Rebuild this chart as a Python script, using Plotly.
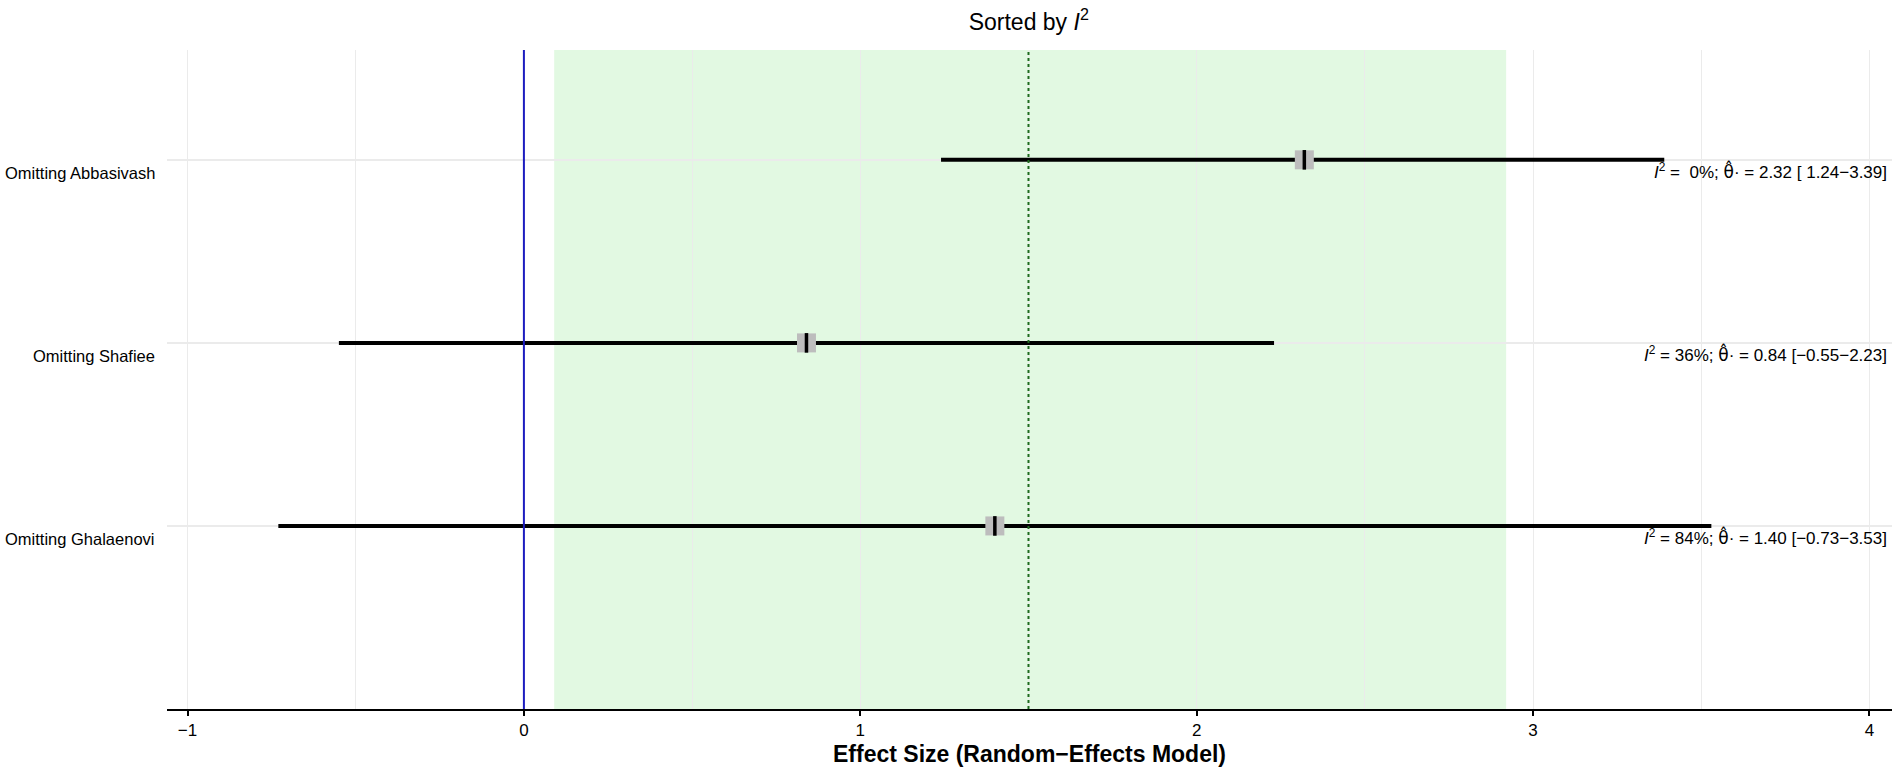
import plotly.graph_objects as go

# leave-one-out results, sorted by I^2
studies = ["Omitting Abbasivash", "Omitting Shafiee", "Omitting Ghalaenovi"]
estimates = [2.32, 0.84, 1.40]
lower = [1.24, -0.55, -0.73]
upper = [3.39, 2.23, 3.53]
i2 = [0, 36, 84]
rows = [3, 2, 1]

# pooled random-effects estimate and CI
pooled = 1.50
pooled_lo = 0.09
pooled_hi = 2.92

FONT = "Liberation Sans, Arial, sans-serif"
grid = "#ebebeb"

fig = go.Figure()

# CI lines
for y, lo, hi in zip(rows, lower, upper):
    fig.add_trace(go.Scatter(
        x=[lo, hi], y=[y, y], mode="lines",
        line=dict(color="black", width=4),
        hoverinfo="skip", showlegend=False
    ))

# grey boxes
fig.add_trace(go.Scatter(
    x=estimates, y=rows, mode="markers",
    marker=dict(symbol="square", size=19, color="#bdbdbd"),
    showlegend=False
))
# black tick in the box
fig.add_trace(go.Scatter(
    x=estimates, y=rows, mode="markers",
    marker=dict(symbol="line-ns", size=14, line=dict(color="black", width=3.5)),
    showlegend=False, hoverinfo="skip"
))

# pooled CI band, null line, pooled estimate
fig.add_shape(type="rect", xref="x", yref="paper", x0=pooled_lo, x1=pooled_hi, y0=0, y1=1,
              fillcolor="#e2f9e2", line_width=0, layer="below")
fig.add_shape(type="line", xref="x", yref="paper", x0=0, x1=0, y0=0, y1=1,
              line=dict(color="#1c1cbf", width=2))
fig.add_shape(type="line", xref="x", yref="paper", x0=pooled, x1=pooled, y0=0, y1=1,
              line=dict(color="#1e6b1e", width=2, dash="dot"))

theta = '<span style="font-family:DejaVu Sans">\u03b8\u0302</span>'

# labels
for y, s, e, lo, hi, h in zip(rows, studies, estimates, lower, upper, i2):
    fig.add_annotation(x=-0.006, xref="paper", y=y, yref="y", text=s, showarrow=False,
                       xanchor="right", yanchor="middle", yshift=-13,
                       font=dict(size=16.5, color="black", family=FONT))
    lo_txt = f"{lo:.2f}".replace("-", "\u2212") if lo < 0 else f" {lo:.2f}"
    txt = (f"<i>I</i><sup>2</sup> = {h:2d}%; {theta}\u00b7 = {e:.2f} "
           f"[{lo_txt}\u2212{hi:.2f}]")
    fig.add_annotation(x=0.998, xref="paper", y=y, yref="y", text=txt, showarrow=False,
                       xanchor="right", yanchor="middle", yshift=-11,
                       font=dict(size=17, color="black", family=FONT))

fig.update_layout(
    width=1896, height=767,
    margin=dict(l=167, r=4, t=50, b=54),
    plot_bgcolor="white", paper_bgcolor="white",
    font=dict(family=FONT, color="black"),
    title=dict(text="Sorted by <i>I</i><sup>2</sup>", x=0.5426, xanchor="center",
               y=0.972, yanchor="middle", font=dict(size=23, color="black")),
    showlegend=False,
)
fig.update_xaxes(
    range=[-1.061, 4.067], dtick=1, tick0=0,
    showgrid=True, gridcolor=grid, gridwidth=1,
    minor=dict(dtick=0.5, tick0=0, showgrid=True, gridcolor=grid, gridwidth=1),
    showline=True, linecolor="black", linewidth=2,
    ticks="outside", ticklen=5, tickwidth=2, tickcolor="black",
    tickfont=dict(size=17, color="black"),
    tickformat="d",
    zeroline=False,
    title=dict(text="<b>Effect Size (Random\u2212Effects Model)</b>",
               font=dict(size=23, color="black"), standoff=6),
)
fig.update_yaxes(
    range=[0, 3.6], tickvals=rows, showticklabels=False,
    showgrid=True, gridcolor=grid, gridwidth=1.5,
    zeroline=False, showline=False, ticks="",
)

fig.write_html("out.html", config={"displayModeBar": False},
               post_script="document.body.style.margin='0';")
